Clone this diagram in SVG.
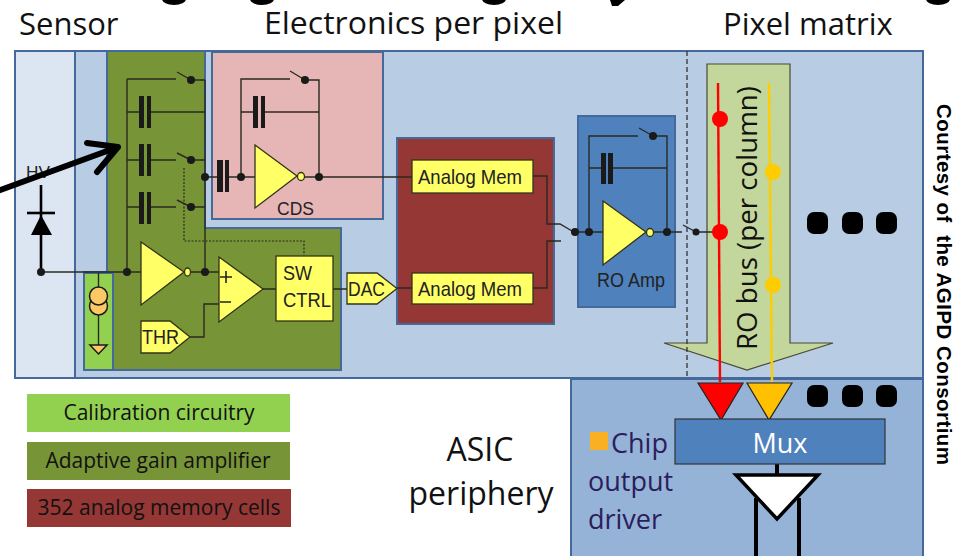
<svg xmlns="http://www.w3.org/2000/svg" width="961" height="556" viewBox="0 0 961 556">
<style>
text{font-family:"Open Sans","Noto Sans",sans-serif;fill:#111}
.a{font-family:"Liberation Sans",Arial,sans-serif;fill:#222}
.w{fill:none;stroke:#2a2a20;stroke-width:1.4}
.c{fill:#1a1a1a}
.y{fill:#ffff66;stroke:#33331a;stroke-width:1.3}
.b{fill:#b8cce4;stroke:#44699a;stroke-width:2}
.cap{fill:#1a1a1a}
.dot{fill:#000}
</style>
<g id="cut-off-title">
<ellipse cx="174" cy="-1" rx="12" ry="6" class="dot"/>
<ellipse cx="262" cy="-1" rx="12" ry="6" class="dot"/>
<ellipse cx="494" cy="-1" rx="12" ry="6" class="dot"/>
<path d="M610 0H625L618 6H612Z" class="dot"/>
<ellipse cx="938" cy="-1" rx="12" ry="6" class="dot"/>
</g>
<g id="titles">
<text x="19" y="35" font-size="31">Sensor</text>
<text x="264" y="33.500" font-size="31" textLength="299" lengthAdjust="spacingAndGlyphs">Electronics per pixel</text>
<text x="723" y="35" font-size="31">Pixel matrix</text>
</g>
<g id="pixel-panel">
<rect x="15" y="51" width="908" height="327" class="b"/>
<rect x="15" y="51" width="60" height="327" fill="#dce6f2" stroke="#44699a" stroke-width="2"/>
</g>
<g id="periphery-panel">
<rect x="571" y="379" width="352" height="180" fill="#95b3d7" stroke="#44699a" stroke-width="2"/>
</g>
<g id="gain-amplifier">
<path d="M107 51H205V228H341V370H84V272H107Z" fill="#779437" stroke="#44699a" stroke-width="2"/>
</g>
<g id="calibration">
<rect x="84" y="273" width="29" height="97" fill="#92d050" stroke="#44699a" stroke-width="2"/>
</g>
<g id="cds-block">
<rect x="212" y="52" width="171" height="167" fill="#e6b5b5" stroke="#44699a" stroke-width="2"/>
</g>
<g id="memory-block">
<rect x="397" y="138" width="157" height="186" fill="#953735" stroke="#44699a" stroke-width="2"/>
</g>
<g id="ro-amp-block">
<rect x="578" y="116" width="97" height="191" fill="#4f81bd" stroke="#44699a" stroke-width="2"/>
</g>
<g id="ro-bus">
<path d="M707 64H790V343H833L747 370 664 343H707Z" fill="#c3d69b" stroke="#4a4a35" stroke-width="1.2"/>
<text transform="translate(757,350) rotate(-90)" font-size="27.700">RO bus (per column)</text>
</g>
<g id="connectors">
<path class="w" d="M127 79H176M127 79V272M127 112H139M151 112H205M127 160H139M151 160H176M127 207H139M151 207H176M190 80H205M190 160H205M190 207H205M205 80V272M205 177H217"/>
<path class="w" d="M229 177H255M241 177V79H290M304 80H319V177M241 112H253M265 112H319M300 177H412"/>
<path class="w" d="M177 72L191 80M177 153L191 160M177 200L191 207M290 71L305 80"/>
<path d="M41 272H141" class="w"/>
<path d="M41 185V272" fill="none" stroke="#000" stroke-width="2.600"/>
<path d="M27 213H55" fill="none" stroke="#000" stroke-width="2.600"/>
<path d="M98.500 273V345" class="w"/>
<path class="w" d="M187 272H219M263 289H276M333 289H347M190 337H204V304H219M397 288H412"/>
<path d="M184 168V241H304V255" fill="none" stroke="#2a2a20" stroke-width="1.2" stroke-dasharray="2 1.5"/>
<path class="w" d="M533 176H547V224H560L572 231M533 288H547V241H561"/>
<path class="w" d="M572 232H603M650 232H682M589 232V136H638M653 136H667V232M589 168H601M613 168H667M639 128L653 136"/>
<path class="w" d="M683 225L696 232M696 232H718"/>
<path d="M687 51V378" fill="none" stroke="#333" stroke-width="1.3" stroke-dasharray="5 3"/>
<path d="M718 83L720 382" fill="none" stroke="#ff0000" stroke-width="2.400"/>
<path d="M769 83L772 382" fill="none" stroke="#ffcc00" stroke-width="2.400"/>
<path d="M777 463V475M756 498V556M799 498V556" fill="none" stroke="#000" stroke-width="4"/>
</g>
<g id="dots">
<circle class="c" cx="41" cy="272" r="4"/><circle class="c" cx="127" cy="272" r="4"/><circle class="c" cx="205" cy="272" r="4"/>
<circle class="c" cx="191" cy="80" r="4"/><circle class="c" cx="191" cy="160" r="4"/><circle class="c" cx="191" cy="207" r="4"/>
<circle class="c" cx="205" cy="177" r="4"/><circle class="c" cx="241" cy="177" r="4"/><circle class="c" cx="319" cy="177" r="4"/><circle class="c" cx="305" cy="80" r="4"/>
<circle class="c" cx="575" cy="232" r="4"/><circle class="c" cx="589" cy="232" r="4"/><circle class="c" cx="667" cy="232" r="4"/><circle class="c" cx="653" cy="136" r="4"/><circle class="c" cx="696" cy="232" r="3.500"/>
<circle cx="720" cy="119" r="8" fill="#ff0000"/><circle cx="720" cy="232" r="8" fill="#ff0000"/>
<circle cx="773" cy="172" r="8" fill="#ffcc00"/><circle cx="773" cy="285" r="8" fill="#ffcc00"/>
</g>
<g id="capacitors">
<path class="cap" d="M139 96h5v32h-5zM147 96h4v32h-4zM139 144h5v32h-5zM147 144h4v32h-4zM139 192h5v32h-5zM147 192h4v32h-4zM217 160h6v32h-6zM225 160h4v32h-4zM253 96h5v32h-5zM261 96h4v32h-4zM601 153h5v31h-5zM608 153h5v31h-5z"/>
</g>
<g id="diode">
<path d="M41 215L31 235H52Z" fill="#000"/>
<text class="a" x="26" y="178" font-size="17" textLength="24" lengthAdjust="spacingAndGlyphs">HV</text>
</g>
<g id="current-source">
<circle cx="98.500" cy="306" r="9" fill="#fcc866" stroke="#1a1a1a" stroke-width="1.5"/>
<circle cx="98.500" cy="296" r="9" fill="#fcc866" stroke="#1a1a1a" stroke-width="1.5"/>
<path d="M90 345H107L98.500 354Z" fill="#fcc866" stroke="#1a1a1a" stroke-width="1.5"/>
</g>
<g id="amp-cds">
<path class="y" d="M255 145L297 176 255 208Z"/><ellipse cx="301" cy="176.500" rx="3.500" ry="4" class="y"/>
<text class="a" x="277" y="215" font-size="19" textLength="37" lengthAdjust="spacingAndGlyphs">CDS</text>
</g>
<g id="amp-gain">
<path class="y" d="M141 242L184 272 141 305Z"/><ellipse cx="187.500" cy="272" rx="3" ry="4" class="y"/>
</g>
<g id="comparator">
<path class="y" d="M219 257L263 289 219 322Z"/>
<path d="M220 277H232M226 271V283M220 302H231" fill="none" stroke="#222" stroke-width="1.6"/>
</g>
<g id="sw-ctrl">
<rect class="y" x="276" y="256" width="57" height="65"/>
<text class="a" x="283" y="280" font-size="21" textLength="29" lengthAdjust="spacingAndGlyphs">SW</text>
<text class="a" x="283" y="307" font-size="21" textLength="48" lengthAdjust="spacingAndGlyphs">CTRL</text>
</g>
<g id="dac">
<path class="y" d="M347 273H377L397 288.500 377 304H347Z"/>
<text class="a" x="348" y="296" font-size="21" textLength="37" lengthAdjust="spacingAndGlyphs">DAC</text>
</g>
<g id="thr">
<path class="y" d="M141 321H170L190 337 170 353H141Z"/>
<text class="a" x="142" y="344" font-size="21" textLength="37" lengthAdjust="spacingAndGlyphs">THR</text>
</g>
<g id="mem-1">
<rect class="y" x="412" y="160" width="121" height="33"/>
<text class="a" x="418" y="184" font-size="21" textLength="104" lengthAdjust="spacingAndGlyphs">Analog Mem</text>
</g>
<g id="mem-2">
<rect class="y" x="412" y="273" width="121" height="31"/>
<text class="a" x="418" y="296" font-size="21" textLength="104" lengthAdjust="spacingAndGlyphs">Analog Mem</text>
</g>
<g id="amp-ro">
<path class="y" d="M603 201L646 232 603 265Z"/><ellipse cx="650" cy="232.500" rx="3.500" ry="4" class="y"/>
<text class="a" x="597" y="287" font-size="21" textLength="68" lengthAdjust="spacingAndGlyphs">RO Amp</text>
</g>
<g id="ellipsis-top">
<rect x="807" y="212" width="21" height="22" rx="7" class="dot"/><rect x="842" y="212" width="21" height="22" rx="7" class="dot"/><rect x="876" y="212" width="21" height="22" rx="7" class="dot"/>
</g>
<g id="ellipsis-bottom">
<rect x="807" y="385" width="21" height="22" rx="7" class="dot"/><rect x="842" y="385" width="21" height="22" rx="7" class="dot"/><rect x="876" y="385" width="21" height="22" rx="7" class="dot"/>
</g>
<g id="tri-red"><path d="M698 383H743L721 420Z" fill="#ff0000" stroke="#222" stroke-width="1.2"/></g>
<g id="tri-yellow"><path d="M747 383H792L769 420Z" fill="#ffc000" stroke="#222" stroke-width="1.2"/></g>
<g id="mux">
<rect x="675" y="419" width="210" height="45" fill="#4f81bd" stroke="#333" stroke-width="1.2"/>
<text x="780" y="453" font-size="27" text-anchor="middle" style="fill:#fff">Mux</text>
</g>
<g id="driver">
<path d="M736 475H818L777 519Z" fill="#fff" stroke="#000" stroke-width="3.500"/>
</g>
<g id="chip-label">
<rect x="590" y="432" width="18" height="18" fill="#f9b022"/>
<text x="611" y="453" font-size="27" style="fill:#2b1e5c">Chip</text>
<text x="588" y="491" font-size="27" style="fill:#2b1e5c">output</text>
<text x="588" y="529" font-size="27" style="fill:#2b1e5c">driver</text>
</g>
<g id="legend-1"><rect x="27" y="394" width="263" height="38" fill="#92d050"/><text x="159" y="420" font-size="21" text-anchor="middle">Calibration circuitry</text></g>
<g id="legend-2"><rect x="27" y="442" width="263" height="38" fill="#779437"/><text x="158" y="468" font-size="21" text-anchor="middle">Adaptive gain amplifier</text></g>
<g id="legend-3"><rect x="27" y="489" width="264" height="38" fill="#953735"/><text x="159" y="515" font-size="21" text-anchor="middle">352 analog memory cells</text></g>
<g id="asic-label">
<text x="480" y="461" font-size="32" text-anchor="middle">ASIC</text>
<text x="481" y="505" font-size="32" text-anchor="middle">periphery</text>
</g>
<g id="courtesy">
<text class="a" transform="translate(937,104) rotate(90)" font-size="20.500" font-weight="700" style="fill:#000;white-space:pre" textLength="361">Courtesy of  the AGIPD Consortium</text>
</g>
<g id="arrow">
<path d="M-5 192L118 147M87 143L118 147 97 172" fill="none" stroke="#000" stroke-width="6" stroke-linecap="round" stroke-linejoin="round"/>
</g>
</svg>
